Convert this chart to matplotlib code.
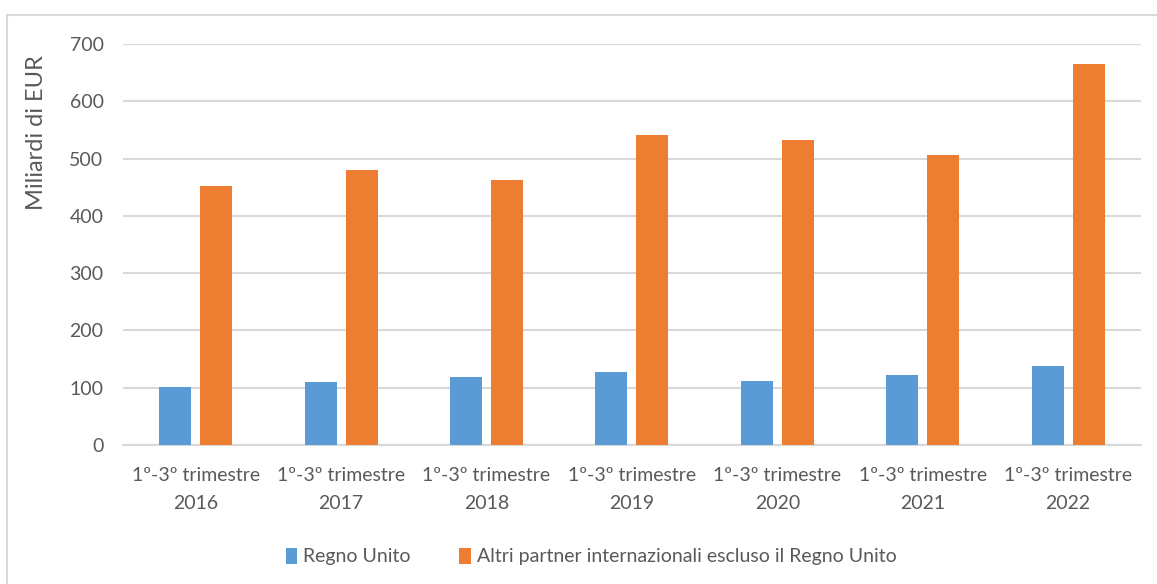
import numpy as np
import matplotlib.pyplot as plt
from matplotlib.patches import Rectangle

plt.rcParams['font.family'] = ['Lato', 'DejaVu Sans']

categories = ["1º-3º trimestre\n2016", "1º-3º trimestre\n2017", "1º-3º trimestre\n2018",
              "1º-3º trimestre\n2019", "1º-3º trimestre\n2020", "1º-3º trimestre\n2021",
              "1º-3º trimestre\n2022"]
regno_unito = [101, 110, 119, 127, 112, 122, 138]
altri_partner = [452, 480, 462, 541, 532, 506, 665]
series_names = ["Regno Unito", "Altri partner internazionali escluso il Regno Unito"]

BLUE = "#5B9BD5"
ORANGE = "#ED7D31"
TEXT = "#595959"
GRID = "#D9D9D9"

fig = plt.figure(figsize=(11.57, 5.84), dpi=100)
ax = fig.add_axes([0.1063, 0.238, 0.8797, 0.6867])

# outer chart frame, partly cut off at right and bottom
fig.patches.append(Rectangle((0.006, -0.05), 1.1, 1.024, transform=fig.transFigure,
                             fill=False, edgecolor=GRID, linewidth=1.5))

x = np.arange(len(categories))
w = 0.22
off = 0.141
ax.bar(x - off, regno_unito, w, color=BLUE, label=series_names[0], zorder=3)
ax.bar(x + off, altri_partner, w, color=ORANGE, label=series_names[1], zorder=3)

ax.set_xlim(-0.5, len(categories) - 0.5)
ax.set_ylim(0, 700)
ax.set_yticks(range(0, 701, 100))
ax.yaxis.grid(True, color=GRID, linewidth=1.5, zorder=0)
ax.set_axisbelow(True)
for s in ["top", "right", "left"]:
    ax.spines[s].set_visible(False)
ax.spines["bottom"].set_color(GRID)
ax.spines["bottom"].set_linewidth(1.5)
ax.tick_params(axis="both", length=0, labelsize=14, colors=TEXT)
ax.tick_params(axis="y", pad=14)
ax.tick_params(axis="x", pad=16)
ax.set_xticks(x)
ax.set_xticklabels(categories, linespacing=1.75)
ax.set_ylabel("Miliardi di EUR", fontsize=17, color=TEXT)
ax.yaxis.set_label_coords(-0.075, 0.78)

fig.legend(loc="center", bbox_to_anchor=(0.511, 0.047), ncol=2, frameon=False,
           fontsize=14, labelcolor=TEXT, handlelength=0.6, handleheight=0.9,
           handletextpad=0.3, columnspacing=2.5)

fig.savefig("out.png", dpi=100)
